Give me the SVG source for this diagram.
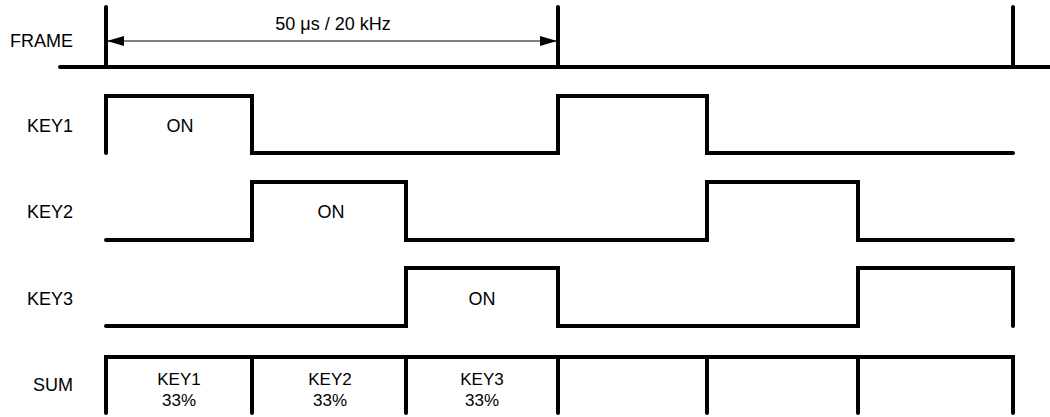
<svg xmlns="http://www.w3.org/2000/svg" width="1050" height="417" viewBox="0 0 1050 417">
<style>
.w{fill:none;stroke:#000;stroke-width:4;stroke-linecap:round;stroke-linejoin:miter}
.t{font-family:"Liberation Sans",Arial,sans-serif;font-size:18px;fill:#000}
.s{font-size:17px}
.l{text-anchor:end}
.c{text-anchor:middle}
</style>
<defs>
<marker id="ah" viewBox="0 0 17 10" refX="17" refY="5" markerWidth="17" markerHeight="10" markerUnits="userSpaceOnUse" orient="auto-start-reverse">
<path d="M0,0 L17,5 L0,10 Z" fill="#000"/>
</marker>
</defs>
<rect width="1050" height="417" fill="#fff"/>
<g id="labels">
<text class="t l" x="73" y="47">FRAME</text>
<text class="t l" x="73" y="132">KEY1</text>
<text class="t l" x="73" y="218">KEY2</text>
<text class="t l" x="73" y="305">KEY3</text>
<text class="t l" x="73" y="391">SUM</text>
</g>
<g id="frame">
<path class="w" d="M60,67 H1050"/>
<path class="w" d="M106,7 V67 M558,7 V67 M1013,7 V67"/>
<path d="M107,41 H557" stroke="#000" stroke-width="1.2" marker-start="url(#ah)" marker-end="url(#ah)"/>
<text class="t c" x="333" y="30">50 μs / 20 kHz</text>
</g>
<g id="key1">
<path class="w" d="M106,153 V96 H252 V153 H558 V96 H707 V153 H1013"/>
<text class="t c" x="180" y="132">ON</text>
</g>
<g id="key2">
<path class="w" d="M106,240 H252 V182 H406 V240 H707 V182 H858 V240 H1013"/>
<text class="t c" x="331" y="218">ON</text>
</g>
<g id="key3">
<path class="w" d="M106,326 H406 V268 H558 V326 H858 V268 H1013 V326"/>
<text class="t c" x="482" y="305">ON</text>
</g>
<g id="sum">
<path class="w" d="M106,413 V357 H1013 V413 M252,357 V413 M406,357 V413 M558,357 V413 M707,357 V413 M858,357 V413"/>
<text class="t s c" x="179" y="385">KEY1</text>
<text class="t s c" x="179" y="406">33%</text>
<text class="t s c" x="330" y="385">KEY2</text>
<text class="t s c" x="330" y="406">33%</text>
<text class="t s c" x="482" y="385">KEY3</text>
<text class="t s c" x="482" y="406">33%</text>
</g>
</svg>
